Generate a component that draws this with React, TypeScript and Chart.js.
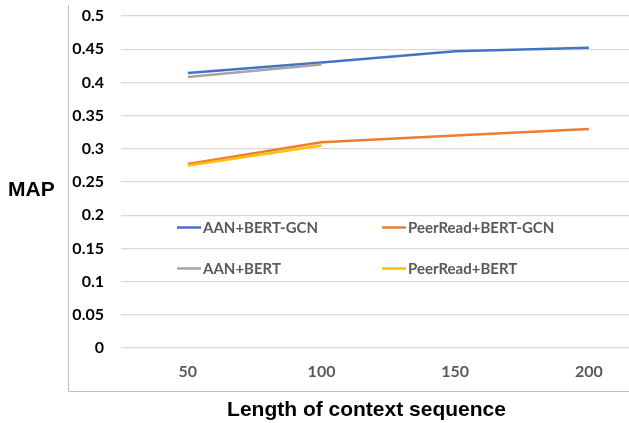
import React, { useEffect, useRef } from "react";
import { Chart, registerables } from "chart.js";

Chart.register(...registerables);

const contextLengths = [50, 100, 150, 200];
const aanBertGcn = [0.414, 0.43, 0.447, 0.452];
const peerReadBertGcn = [0.277, 0.31, 0.32, 0.33];
const aanBert = [0.408, 0.427];
const peerReadBert = [0.275, 0.305];
const yTickValues = [0, 0.05, 0.1, 0.15, 0.2, 0.25, 0.3, 0.35, 0.4, 0.45, 0.5];
const yTickLabels = ["0", "0.05", "0.1", "0.15", "0.2", "0.25", "0.3", "0.35", "0.4", "0.45", "0.5"];
const seriesNames = ["AAN+BERT-GCN", "PeerRead+BERT-GCN", "AAN+BERT", "PeerRead+BERT"];
const seriesColors = ["#4472C4", "#ED7D31", "#A5A5A5", "#FFC000"];
const xTitle = "Length of context sequence";
const yTitle = "MAP";

const toPoints = (vals: number[]) => vals.map((v, i) => ({ x: contextLengths[i], y: v }));

const TICK_FONT = "Lato";

const decorPlugin = {
  id: "decor",
  beforeDraw(chart: any) {
    const ctx = chart.ctx;
    ctx.save();
    ctx.strokeStyle = "#bfbfbf";
    ctx.lineWidth = 1;
    ctx.beginPath();
    ctx.moveTo(68.5, 5);
    ctx.lineTo(68.5, 391.5);
    ctx.lineTo(chart.width, 391.5);
    ctx.stroke();
    ctx.restore();
  },
  afterDraw(chart: any) {
    const ctx = chart.ctx;
    ctx.save();
    // axis titles
    ctx.fillStyle = "#000000";
    ctx.font = "bold 21px 'Liberation Sans', Arial, sans-serif";
    ctx.textBaseline = "middle";
    ctx.textAlign = "left";
    ctx.fillText(yTitle, 8, 190);
    ctx.textAlign = "center";
    ctx.textBaseline = "alphabetic";
    ctx.fillText(xTitle, 366.5, 416);

    // legend
    const cols = [177, 382];
    const rows = [227.5, 268.5];
    ctx.font = `bold 15px ${TICK_FONT}, sans-serif`;
    ctx.textAlign = "left";
    ctx.textBaseline = "middle";
    chart.data.datasets.forEach((ds: any, i: number) => {
      const x = cols[i % 2];
      const y = rows[Math.floor(i / 2)];
      ctx.strokeStyle = ds.borderColor;
      ctx.lineWidth = 2.5;
      ctx.beginPath();
      ctx.moveTo(x, y);
      ctx.lineTo(x + 24, y);
      ctx.stroke();
      ctx.fillStyle = "#595959";
      ctx.fillText(ds.label, x + 26, y + 1);
    });
    ctx.restore();
  },
};

export default function App() {
  const canvasRef = useRef<HTMLCanvasElement | null>(null);

  useEffect(() => {
    document.body.style.margin = "0";
    document.body.style.overflow = "hidden";
    const seriesValues = [aanBertGcn, peerReadBertGcn, aanBert, peerReadBert];
    const chart = new Chart(canvasRef.current as HTMLCanvasElement, {
      type: "line",
      data: {
        datasets: seriesValues.map((vals, i) => ({
          label: seriesNames[i],
          data: toPoints(vals),
          borderColor: seriesColors[i],
          backgroundColor: seriesColors[i],
          borderWidth: 2.5,
          pointRadius: 0,
          tension: 0,
          fill: false,
          order: [1, 2, 0, 0][i],
        })),
      },
      options: {
        animation: false,
        responsive: false,
        layout: { padding: { top: 16, right: 0, bottom: 0, left: 0 } },
        plugins: { legend: { display: false }, tooltip: { enabled: false } },
        scales: {
          x: {
            type: "linear",
            min: 25,
            max: 215,
            afterBuildTicks: (scale: any) => {
              scale.ticks = contextLengths.map((v) => ({ value: v }));
            },
            afterFit: (scale: any) => {
              scale.height = 75;
              scale.paddingLeft = 0;
              scale.paddingRight = 0;
            },
            grid: { display: false, drawTicks: false },
            border: { display: false },
            ticks: {
              padding: 14,
              color: "#595959",
              font: { family: TICK_FONT, size: 16, weight: "bold" },
              callback: (v: any) => String(v),
            },
          },
          y: {
            min: 0,
            max: 0.5,
            afterBuildTicks: (scale: any) => {
              scale.ticks = yTickValues.map((v) => ({ value: v }));
            },
            afterFit: (scale: any) => {
              scale.width = 121;
              scale.paddingTop = 0;
              scale.paddingBottom = 0;
            },
            grid: { color: "#d9d9d9", lineWidth: 1.2, drawTicks: false },
            border: { display: false },
            ticks: {
              padding: 17,
              color: "#000000",
              font: { family: TICK_FONT, size: 16, weight: "bold" },
              callback: (v: any) => {
                const idx = yTickValues.findIndex((t) => Math.abs(t - v) < 1e-9);
                return idx >= 0 ? yTickLabels[idx] : "";
              },
            },
          },
        },
      },
      plugins: [decorPlugin],
    });
    return () => chart.destroy();
  }, []);

  return <canvas ref={canvasRef} width={629} height={423} style={{ display: "block" }} />;
}
